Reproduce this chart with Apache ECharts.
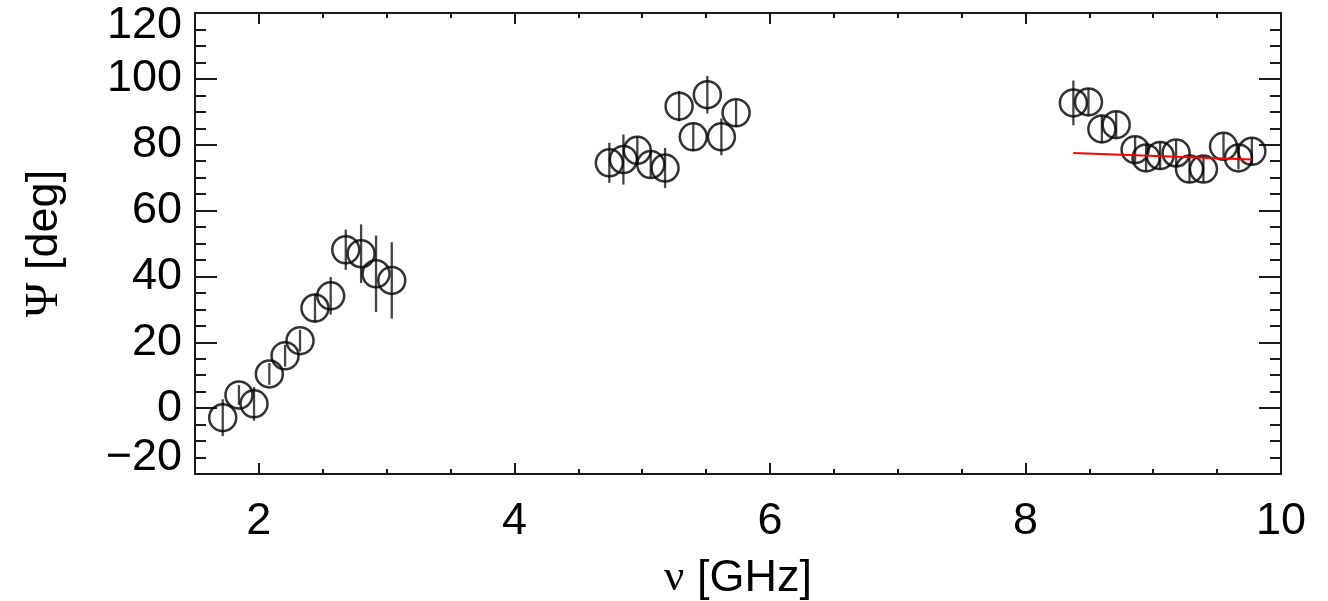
<!DOCTYPE html>
<html>
<head>
<meta charset="utf-8">
<script src="https://cdn.jsdelivr.net/npm/echarts@6/dist/echarts.min.js"></script>
<style>
  html, body { margin: 0; padding: 0; background: #fff; }
  #chart { width: 1328px; height: 601px; }
</style>
</head>
<body>
<div id="chart"></div>
<script>
// Polarization angle vs frequency, three observing bands
const freqBand1 = [1.717, 1.844, 1.962, 2.082, 2.205, 2.322, 2.439, 2.562, 2.680, 2.800, 2.917, 3.040];
const psiBand1  = [-2.9, 4.0, 1.3, 10.4, 15.9, 20.5, 30.4, 34.1, 48.1, 46.9, 40.8, 38.8];
const errBand1  = [5.6, 3.0, 5.1, 3.3, 3.3, 3.3, 4.4, 5.7, 6.1, 8.9, 11.6, 11.6];

const freqBand2 = [4.743, 4.853, 4.962, 5.067, 5.179, 5.289, 5.400, 5.510, 5.620, 5.735];
const psiBand2  = [74.5, 75.5, 78.3, 74.0, 72.9, 91.7, 82.4, 95.2, 82.4, 89.7];
const errBand2  = [6.1, 7.6, 4.1, 4.0, 6.1, 4.6, 4.3, 5.7, 5.6, 4.3];

const freqBand3 = [8.375, 8.493, 8.598, 8.710, 8.858, 8.944, 9.054, 9.179, 9.284, 9.393, 9.550, 9.667, 9.772];
const psiBand3  = [92.7, 93.0, 84.8, 86.1, 78.5, 76.0, 76.7, 77.5, 72.6, 72.6, 79.5, 76.0, 78.0];
const errBand3  = [6.8, 4.1, 4.2, 4.0, 4.0, 4.0, 4.0, 4.0, 4.0, 4.0, 4.0, 3.5, 4.0];

// Linear fit over the high band
const fitFreq = [8.375, 9.772];
const fitPsi  = [77.5, 75.5];

const xMajorTicks = [2, 4, 6, 8, 10];
const xMinorTicks = [2.5, 3, 3.5, 4.5, 5, 5.5, 6.5, 7, 7.5, 8.5, 9, 9.5];
const yTickLabels = [-20, 0, 20, 40, 60, 80, 100, 120];

const X_MIN = 1.5, X_MAX = 10, Y_MIN = -20, Y_MAX = 120, Y_STEP = 20;

const freqAll = freqBand1.concat(freqBand2, freqBand3);
const psiAll  = psiBand1.concat(psiBand2, psiBand3);
const errAll  = errBand1.concat(errBand2, errBand3);

const points  = freqAll.map((f, i) => [f, psiAll[i]]);
const errData = freqAll.map((f, i) => [f, psiAll[i] - errAll[i], psiAll[i] + errAll[i]]);
const fitData = fitFreq.map((f, i) => [f, fitPsi[i]]);

const SANS = '"Liberation Sans", Arial, Helvetica, sans-serif';
const SERIF = '"Liberation Serif", "DejaVu Serif", serif';
const INK = '#1a1a1a';
const FS = 45;

function xAxisDef(pos, ticks, len, showLine, showLabel) {
  return {
    type: 'value', position: pos, min: X_MIN, max: X_MAX,
    axisLine: { show: showLine, onZero: false, lineStyle: { color: INK, width: 2 } },
    axisTick: { show: true, inside: true, length: len, customValues: ticks,
                lineStyle: { color: INK, width: 2 } },
    axisLabel: { show: showLabel, customValues: xMajorTicks, margin: 25,
                 fontFamily: SANS, fontSize: FS, color: '#000' },
    splitLine: { show: false }
  };
}

// End labels are nudged inward, so the outermost ones sit inside the frame height
const labelRich = {
  n:  { fontFamily: SANS, fontSize: FS, color: '#000' },
  hi: { fontFamily: SANS, fontSize: FS, color: '#000', padding: [26, 0, 0, 0] },
  lo: { fontFamily: SANS, fontSize: FS, color: '#000', padding: [0, 0, 32, 0] }
};

function yAxisDef(pos, showLabel) {
  return {
    type: 'value', position: pos, min: Y_MIN, max: Y_MAX, interval: Y_STEP,
    axisLine: { show: true, onZero: false, lineStyle: { color: INK, width: 2 } },
    axisTick: { show: true, inside: true, length: 22, lineStyle: { color: INK, width: 2 } },
    minorTick: { show: true, splitNumber: 4, length: 11, lineStyle: { color: INK, width: 2 } },
    axisLabel: {
      show: showLabel, margin: 13, fontFamily: SANS, fontSize: FS, color: '#000',
      rich: labelRich,
      formatter: v => {
        if (yTickLabels.indexOf(v) < 0) return '';
        const txt = v < 0 ? '\u2212' + (-v) : String(v);
        const key = v === Y_MAX ? 'hi' : (v === Y_MIN ? 'lo' : 'n');
        return '{' + key + '|' + txt + '}';
      }
    },
    splitLine: { show: false }
  };
}

const chart = echarts.init(document.getElementById('chart'), null, { renderer: 'canvas' });

const xBottom = xAxisDef('bottom', xMajorTicks, 11, true, true);
xBottom.name = '{g|\u03bd} [GHz]';
xBottom.nameLocation = 'middle';
xBottom.nameGap = 82;
xBottom.nameTextStyle = { fontFamily: SANS, fontSize: FS, color: '#000',
  rich: { g: { fontFamily: SERIF, fontSize: FS, color: '#000' } } };

const yLeft = yAxisDef('left', true);
yLeft.name = '{g|\u03a8} [deg]';
yLeft.nameLocation = 'middle';
yLeft.nameGap = 127;
yLeft.nameRotate = 90;
yLeft.nameTextStyle = { fontFamily: SANS, fontSize: FS, color: '#000',
  rich: { g: { fontFamily: SERIF, fontSize: FS + 2, color: '#000' } } };

chart.setOption({
  animation: false,
  backgroundColor: '#fff',
  grid: { left: 195, right: 47, top: 13, bottom: 127, containLabel: false, outerBoundsMode: 'none' },
  xAxis: [
    xBottom,
    xAxisDef('bottom', xMinorTicks, 5, false, false),
    xAxisDef('top', xMajorTicks, 11, true, false),
    xAxisDef('top', xMinorTicks, 5, false, false)
  ],
  yAxis: [
    yLeft,
    yAxisDef('right', false)
  ],
  series: [
    {
      name: 'error', type: 'custom', xAxisIndex: 0, yAxisIndex: 0,
      data: errData, z: 2,
      renderItem: (params, api) => {
        const lo = api.coord([api.value(0), api.value(1)]);
        const hi = api.coord([api.value(0), api.value(2)]);
        return {
          type: 'line',
          shape: { x1: lo[0], y1: lo[1], x2: hi[0], y2: hi[1] },
          style: { stroke: '#444', lineWidth: 2.3 }
        };
      }
    },
    {
      name: 'psi', type: 'scatter', xAxisIndex: 0, yAxisIndex: 0,
      data: points, symbol: 'circle', symbolSize: 27, z: 3,
      itemStyle: { color: 'rgba(0,0,0,0)', borderColor: '#000', borderWidth: 2.5 }
    },
    {
      name: 'fit', type: 'line', xAxisIndex: 0, yAxisIndex: 0,
      data: fitData, showSymbol: false, symbol: 'none', z: 4,
      lineStyle: { color: '#ff0000', width: 2 }
    }
  ]
});
</script>
</body>
</html>
